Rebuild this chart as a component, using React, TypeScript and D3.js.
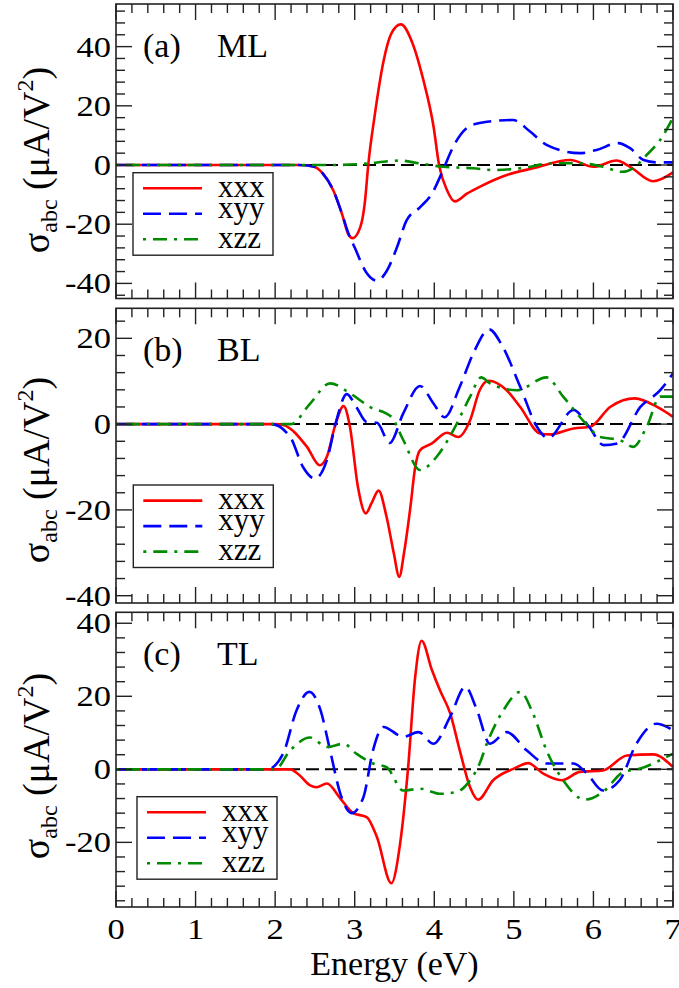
import React from 'react';
import * as d3 from 'd3';

// photon energy ticks (eV)
const energyTicks = [0, 1, 2, 3, 4, 5, 6, 7];
const seriesNames = ['xxx', 'xyy', 'xzz'];

// (a) ML  [energy, sigma]
const mlXxx: [number, number][] = [
  [0, 0], [2.3, 0], [2.48, -0.5], [2.6, -2.9], [2.73, -8.5], [2.84, -16.5], [2.92, -23.4], [2.975, -24.7],
  [3.07, -21], [3.13, -12], [3.17, 0], [3.25, 16.5], [3.36, 34.8], [3.46, 44.4], [3.58, 47.5], [3.72, 41.6],
  [3.86, 29], [3.99, 13.1], [4.06, 0], [4.16, -8.5], [4.26, -12.3], [4.41, -9.7], [4.57, -7.4], [4.91, -3.4],
  [5.24, -1.1], [5.71, 1.7], [6.0, -0.6], [6.29, 1.5], [6.46, -0.6], [6.75, -5.5], [7.0, -2.5],
];
const mlXyy: [number, number][] = [
  [0, 0], [2.3, 0], [2.48, -0.5], [2.6, -2.9], [2.73, -8.5], [2.84, -16.5], [2.92, -23], [3.0, -27.9],
  [3.15, -36.5], [3.28, -39.1], [3.4, -35.9], [3.53, -27.9], [3.65, -18.8], [3.82, -14.3], [3.97, -9.7],
  [4.11, -1.7], [4.24, 6.3], [4.41, 12.5], [4.57, 14.2], [4.99, 15.2], [5.2, 11.4], [5.41, 6.8], [5.83, 4.0],
  [6.04, 5.1], [6.31, 7.4], [6.46, 5.7], [6.63, 1.7], [6.8, 0.9], [7.0, 0.9],
];
const mlXzz: [number, number][] = [
  [0, 0], [2.7, 0], [3.07, 0.3], [3.57, 1.5], [3.8, 0.6], [4.11, -0.6], [4.49, -1.1], [4.74, -1.7],
  [5.08, -1.1], [5.5, 0.6], [5.83, 0.6], [6.12, -0.6], [6.36, -2.3], [6.5, -1.1], [6.67, 3.4], [6.84, 8.5],
  [7.0, 16],
];

// (b) BL
const blXxx: [number, number][] = [
  [0, 0], [2.0, 0], [2.1, -0.2], [2.4, -5.3], [2.56, -9.6], [2.65, -7.6], [2.75, -0.6], [2.86, 4.2],
  [2.94, -0.6], [3.04, -14.6], [3.14, -20.8], [3.21, -18.5], [3.3, -15.5], [3.4, -21.6], [3.49, -30],
  [3.56, -35.6], [3.62, -30], [3.7, -19.3], [3.76, -10], [3.82, -6.1], [3.97, -4.5], [4.16, -2.0],
  [4.3, -3.0], [4.45, 0.9], [4.57, 7.9], [4.68, 10.1], [4.91, 7.9], [5.08, 4.0], [5.33, -2.2], [5.45, -2.4],
  [5.75, -1.0], [5.96, -0.6], [6.21, 4.0], [6.52, 6.0], [6.8, 4.0], [7.0, 1.7],
];
const blXyy: [number, number][] = [
  [0, 0], [1.95, 0], [2.19, -3.0], [2.35, -10], [2.5, -12.7], [2.65, -8.4], [2.77, 0.9], [2.9, 7.0],
  [3.02, 4.0], [3.15, 0.5], [3.28, 0.3], [3.44, -4.4], [3.61, 2.5], [3.82, 8.9], [3.99, 4.8], [4.13, 1.6],
  [4.32, 8.7], [4.49, 16.5], [4.69, 22.1], [4.85, 18.4], [5.08, 8.7], [5.29, -0.6], [5.43, -3.3],
  [5.75, 3.3], [5.94, -0.5], [6.13, -4.9], [6.3, -4.5], [6.59, 4.0], [6.84, 7.9], [7.0, 11.8],
];
const blXzz: [number, number][] = [
  [0, 0], [2.2, 0], [2.44, 4.8], [2.69, 9.5], [2.94, 7.2], [3.19, 4.0], [3.46, 1.7], [3.61, -3.7],
  [3.82, -10.7], [4.03, -7.6], [4.24, -1.4], [4.45, 6.4], [4.59, 10.9], [4.7, 9.5], [5.04, 7.9],
  [5.41, 10.9], [5.62, 6.4], [5.92, -0.2], [6.08, -3.0], [6.33, -3.7], [6.5, -5.3], [6.67, -0.6],
  [6.84, 6.4], [7.0, 6.4],
];

// (c) TL
const tlXxx: [number, number][] = [
  [0, 0], [2.19, 0], [2.3, -1.5], [2.44, -4.4], [2.52, -4.9], [2.65, -3.9], [2.82, -8.0], [2.98, -12.0],
  [3.15, -13.1], [3.28, -18.6], [3.46, -31.2], [3.57, -20.4], [3.67, 0.2], [3.76, 25.3], [3.84, 35.2],
  [3.97, 27.2], [4.07, 21.7], [4.2, 15.3], [4.32, 5.2], [4.45, -4.9], [4.55, -8.3], [4.74, -3.0],
  [5.0, 0.2], [5.18, 1.7], [5.37, -1.2], [5.6, -3.0], [5.83, -0.7], [6.12, -0.3], [6.42, 3.8],
  [6.75, 4.1], [7.0, 0.6],
];
const tlXyy: [number, number][] = [
  [0, 0], [1.9, 0], [2.1, 4.3], [2.27, 16.2], [2.43, 21.2], [2.57, 16.2], [2.69, 5.2], [2.82, -6.7],
  [2.96, -12.0], [3.11, -7.6], [3.23, 5.2], [3.36, 11.6], [3.61, 8.9], [3.8, 10.2], [3.99, 7.0],
  [4.2, 14.4], [4.39, 22.6], [4.53, 16.6], [4.7, 7.0], [4.91, 10.2], [5.16, 5.2], [5.41, 1.6],
  [5.75, 1.6], [5.92, -1.2], [6.12, -5.8], [6.33, -3.0], [6.54, 7.0], [6.79, 12.5], [7.0, 10.7],
];
const tlXzz: [number, number][] = [
  [0, 0], [2.0, 0], [2.19, 5.2], [2.44, 8.7], [2.65, 6.1], [2.86, 7.0], [3.02, 4.3], [3.23, 1.6],
  [3.4, 0.6], [3.61, -5.8], [3.82, -5.3], [4.07, -6.7], [4.28, -6.2], [4.45, -3.0], [4.57, 1.6],
  [4.66, 7.0], [4.87, 16.2], [5.08, 21.2], [5.24, 15.3], [5.41, 5.2], [5.62, -3.0], [5.89, -8.3],
  [6.12, -6.2], [6.38, -0.7], [6.59, 0.2], [6.79, 2.0], [7.0, 4.3],
];

const W = 679, H = 988;
const left = 116, right = 673;
const serif = 'Liberation Serif, Times New Roman, DejaVu Serif, serif';

const panels = [
  { tag: '(a)', name: 'ML', top: 4, bottom: 298.5, domain: [-45.1, 54.4], lx: 133, ly: 172.7, labelY: 160, data: [mlXxx, mlXyy, mlXzz] },
  { tag: '(b)', name: 'BL', top: 308.3, bottom: 603, domain: [-41.7, 27.0], lx: 133.3, ly: 485, labelY: 470, data: [blXxx, blXyy, blXzz] },
  { tag: '(c)', name: 'TL', top: 612.3, bottom: 907, domain: [-37.7, 43.0], lx: 137, ly: 796.7, labelY: 766, data: [tlXxx, tlXyy, tlXzz] },
];

const lineStyles = [
  { color: '#ff0000', dash: undefined },
  { color: '#0000ff', dash: '18 8' },
  { color: '#008b00', dash: '3 7 14 7' },
];

const x = d3.scaleLinear().domain([0, 7]).range([left, right]);

function Panel({ p, last }: { p: typeof panels[number]; last: boolean }) {
  const y = d3.scaleLinear().domain(p.domain).range([p.bottom, p.top]);
  const line = d3.line<[number, number]>().x(d => x(d[0])).y(d => y(d[1])).curve(d3.curveMonotoneX);
  const lo = Math.ceil(p.domain[0] / 4) * 4;
  const yMinor = d3.range(lo, p.domain[1], 4).filter(v => v % 20 !== 0);
  const yMajor = d3.range(lo, p.domain[1], 4).filter(v => v % 20 === 0);
  const xMinor = d3.range(0, 7.001, 0.2).filter(v => Math.abs(v - Math.round(v)) > 0.01);
  const clipId = `clip-${p.name}`;
  return (
    <g>
      <defs>
        <clipPath id={clipId}>
          <rect x={left} y={p.top} width={right - left} height={p.bottom - p.top} />
        </clipPath>
      </defs>
      <line x1={left} x2={right} y1={y(0)} y2={y(0)} stroke="#000" strokeWidth={2} strokeDasharray="13 6" />
      <g clipPath={`url(#${clipId})`}>
        {p.data.map((d, i) => (
          <path key={i} d={line(d) || ''} fill="none" stroke={lineStyles[i].color} strokeWidth={2.6}
            strokeDasharray={lineStyles[i].dash} strokeLinejoin="round" />
        ))}
      </g>
      {/* ticks */}
      <g stroke="#222" strokeWidth={1.4}>
        {yMajor.map(v => (
          <g key={'M' + v}>
            <line x1={left} x2={left + 16} y1={y(v)} y2={y(v)} />
            <line x1={right} x2={right - 16} y1={y(v)} y2={y(v)} />
          </g>
        ))}
        {yMinor.map(v => (
          <g key={'m' + v}>
            <line x1={left} x2={left + 9} y1={y(v)} y2={y(v)} />
            <line x1={right} x2={right - 9} y1={y(v)} y2={y(v)} />
          </g>
        ))}
        {energyTicks.map(v => (
          <g key={'X' + v}>
            <line x1={x(v)} x2={x(v)} y1={p.top} y2={p.top + 16} />
            <line x1={x(v)} x2={x(v)} y1={p.bottom} y2={p.bottom - 16} />
          </g>
        ))}
        {xMinor.map(v => (
          <g key={'x' + v}>
            <line x1={x(v)} x2={x(v)} y1={p.top} y2={p.top + 9} />
            <line x1={x(v)} x2={x(v)} y1={p.bottom} y2={p.bottom - 9} />
          </g>
        ))}
      </g>
      <rect x={left} y={p.top} width={right - left} height={p.bottom - p.top} fill="none" stroke="#222" strokeWidth={1.6} />
      {/* tick labels */}
      <g style={{ fontFamily: serif, fontSize: 30 }} fill="#000">
        {yMajor.map(v => (
          <text key={v} transform={`translate(111, ${y(v) + 10}) scale(1.15, 1)`} textAnchor="end">{v}</text>
        ))}
        {last && energyTicks.map(v => (
          <text key={v} transform={`translate(${x(v)}, 939) scale(1.15, 1)`} textAnchor="middle">{v}</text>
        ))}
      </g>
      {/* panel label */}
      <g style={{ fontFamily: serif, fontSize: 34 }} fill="#000">
        <text x={143} y={p.top + 53}>{p.tag}</text>
        <text x={217} y={p.top + 53}>{p.name}</text>
      </g>
      {/* y label */}
      <text transform={`translate(49, ${p.labelY}) rotate(-90)`} textAnchor="middle" style={{ fontFamily: serif, fontSize: 38 }}>
        <tspan>σ</tspan>
        <tspan style={{ fontSize: 24 }} dy={8}>abc</tspan>
        <tspan dy={-8}> (μA/V</tspan>
        <tspan style={{ fontSize: 24 }} dy={-16}>2</tspan>
        <tspan dy={16}>)</tspan>
      </text>
      {/* legend */}
      <g transform={`translate(${p.lx}, ${p.ly})`}>
        <rect x={0} y={0} width={140} height={82.5} fill="#fff" stroke="#222" strokeWidth={1.4} />
        {seriesNames.map((s, i) => {
          const ly = 15.6 + i * 25.5;
          const dy = /[gjpqy]/.test(s) ? 4 : 8.5;
          return (
            <g key={s}>
              <line x1={10} x2={69} y1={ly} y2={ly} stroke={lineStyles[i].color} strokeWidth={2.6}
                strokeDasharray={lineStyles[i].dash} />
              <text x={85} y={ly + dy} style={{ fontFamily: serif, fontSize: 31 }}>{s}</text>
            </g>
          );
        })}
      </g>
    </g>
  );
}

export default function App() {
  return (
    <svg width={W} height={H} style={{ position: 'absolute', left: 0, top: 0, background: '#fff', fontFamily: serif }}>
      <rect width={W} height={H} fill="#fff" />
      {panels.map((p, i) => (
        <Panel key={p.name} p={p} last={i === panels.length - 1} />
      ))}
      <text x={(left + right) / 2} y={975} textAnchor="middle" style={{ fontFamily: serif, fontSize: 34 }}>Energy (eV)</text>
    </svg>
  );
}
